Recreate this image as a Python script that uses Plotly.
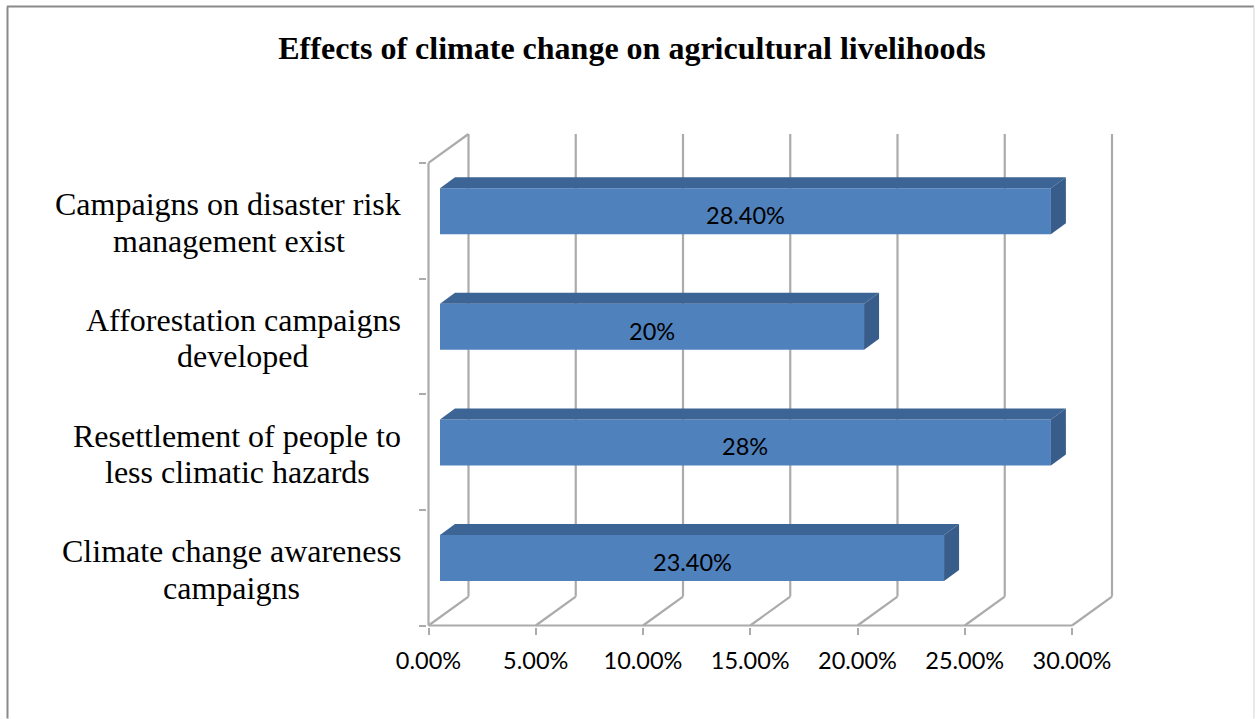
import plotly.graph_objects as go

# Data (bottom to top on the chart)
category_lines = [
    ["Climate change awareness", "campaigns"],
    ["Resettlement of people to", "less climatic hazards"],
    ["Afforestation campaigns", "developed"],
    ["Campaigns on disaster risk", "management exist"],
]
bar_lengths = [0.235, 0.2848, 0.1977, 0.2848]   # as drawn in the picture
bar_labels = ["23.40%", "28%", "20%", "28.40%"]
x_ticks = [0.0, 0.05, 0.10, 0.15, 0.20, 0.25, 0.30]
title_text = "Effects of climate change on agricultural livelihoods"

W, H = 1255, 719
X0_PX, Y0_PX = 428.5, 626.0          # pixel of the axes' origin
L, R, T, B = 427.0, 1116.0, 130.0, 627.5   # plot area, slightly wider so lines are not clipped
PX_PER_X = (1072.0 - 428.5) / 0.30
PX_PER_Y = 115.75
WALL_DX, WALL_DY = 40 / PX_PER_X, 29 / PX_PER_Y
BAR_X0, BAR_Y_SHIFT = 11.5 / PX_PER_X, 0.083
BAR_H = 46 / PX_PER_Y
BAR_DX, BAR_DY = 15 / PX_PER_X, 11 / PX_PER_Y
FRONT, TOP_C, SIDE_C = "#4F81BD", "#3C6494", "#385D8A"
GRID = "#ABABAB"
n = len(bar_lengths)
ys = list(range(n))

fig = go.Figure()

# front faces
fig.add_trace(go.Bar(
    orientation="h",
    y=[i + 0.5 + BAR_Y_SHIFT for i in ys],
    x=bar_lengths,
    base=[BAR_X0] * n,
    width=BAR_H,
    marker=dict(color=FRONT, line=dict(width=0)),
    hoverinfo="skip",
))

# top and side faces
for i in ys:
    yc = i + 0.5 + BAR_Y_SHIFT
    y0, y1 = yc - BAR_H / 2, yc + BAR_H / 2
    x0, x1 = BAR_X0, BAR_X0 + bar_lengths[i]
    fig.add_trace(go.Scatter(
        x=[x0, x1, x1 + BAR_DX, x0 + BAR_DX, x0],
        y=[y1, y1, y1 + BAR_DY, y1 + BAR_DY, y1],
        mode="lines", fill="toself", fillcolor=TOP_C,
        line=dict(width=0), hoverinfo="skip"))
    fig.add_trace(go.Scatter(
        x=[x1, x1 + BAR_DX, x1 + BAR_DX, x1, x1],
        y=[y0, y0 + BAR_DY, y1 + BAR_DY, y1, y0],
        mode="lines", fill="toself", fillcolor=SIDE_C,
        line=dict(width=0), hoverinfo="skip"))

shapes = []
def seg(x0, y0, x1, y1, w=2.2, c=GRID):
    shapes.append(dict(type="line", xref="x", yref="y", x0=x0, y0=y0, x1=x1, y1=y1,
                       line=dict(color=c, width=w), layer="below"))

# walls: back verticals and floor diagonals
for t in x_ticks:
    seg(t + WALL_DX, WALL_DY, t + WALL_DX, n + WALL_DY)
    seg(t, 0, t + WALL_DX, WALL_DY)
# front axis lines and left-wall top edge
seg(0, 0, x_ticks[-1], 0)
seg(0, 0, 0, n)
seg(0, n, WALL_DX, n + WALL_DY)

# chart frame
def frame(px0, py0, px1, py1, c, w):
    shapes.append(dict(type="line", xref="paper", yref="paper",
                       x0=(px0 - L) / (R - L), x1=(px1 - L) / (R - L),
                       y0=(B - py0) / (B - T), y1=(B - py1) / (B - T),
                       line=dict(color=c, width=w), layer="above"))
frame(7.5, 6.5, 7.5, H, "#8A8A8A", 2)
frame(7, 6.5, 1254, 6.5, "#8A8A8A", 2)
frame(1254, 6.5, 1254, H, "#E2E2E2", 1.5)

annotations = []
SERIF = "Liberation Serif"
line_center_px = [[231, 231], [237, 237], [243, 243], [228, 229]]
LINE_GAP = 36.5 / PX_PER_Y
for i, (l1, l2) in enumerate(category_lines):
    yc = i + 0.5 - 0.015
    for txt, cx, yy in ((l1, line_center_px[i][0], yc + LINE_GAP / 2),
                        (l2, line_center_px[i][1], yc - LINE_GAP / 2)):
        annotations.append(dict(
            text=txt, xref="paper", yref="y",
            x=(cx - L) / (R - L), y=yy, xanchor="center", yanchor="middle",
            showarrow=False, font=dict(family=SERIF, size=32, color="#000000")))

# value labels, sitting a little below the middle of each front face
for i in ys:
    annotations.append(dict(
        text=bar_labels[i], xref="x", yref="y",
        x=BAR_X0 + bar_lengths[i] / 2, y=i + 0.5 + BAR_Y_SHIFT,
        xanchor="center", yanchor="middle", yshift=-4, showarrow=False,
        font=dict(family="Lato", size=23.5, color="#000000")))

fig.update_layout(
    width=W, height=H, autosize=False,
    margin=dict(l=L, r=W - R, t=T, b=H - B, pad=0),
    paper_bgcolor="#FFFFFF", plot_bgcolor="rgba(0,0,0,0)",
    showlegend=False, barmode="overlay",
    title=dict(text="<b>%s</b>" % title_text, x=632 / W, xanchor="center",
               y=1 - 48 / H, yanchor="middle",
               font=dict(family=SERIF, size=32, color="#000000")),
    xaxis=dict(range=[(L - X0_PX) / PX_PER_X, (R - X0_PX) / PX_PER_X],
               tickmode="array", tickvals=x_ticks,
               tickformat=".2%", showgrid=False, zeroline=False, showline=False,
               ticks="outside", ticklen=7, tickwidth=2, tickcolor=GRID,
               ticklabelstandoff=6,
               tickfont=dict(family="Lato", size=23.5, color="#000000")),
    yaxis=dict(range=[(Y0_PX - B) / PX_PER_Y, (Y0_PX - T) / PX_PER_Y],
               tickmode="array", tickvals=list(range(n + 1)),
               showticklabels=False, showgrid=False, zeroline=False, showline=False,
               ticks="outside", ticklen=7, tickwidth=2, tickcolor=GRID),
    shapes=shapes, annotations=annotations,
)

fig.write_html("out.html", config={"displayModeBar": False},
               post_script="document.body.style.margin='0';document.documentElement.style.overflow='hidden';")
